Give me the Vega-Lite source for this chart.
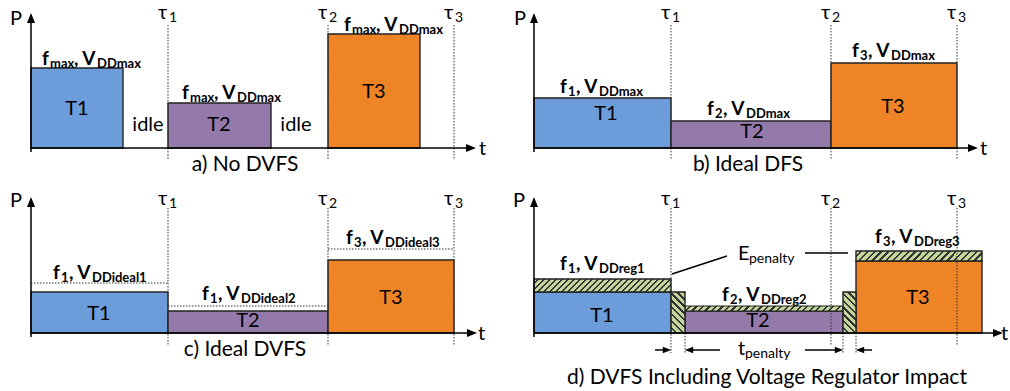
{
"$schema": "https://vega.github.io/schema/vega-lite/v6.json",
"width": 1010, "height": 391,
"autosize": {"type": "fit", "contains": "padding"},
"padding": 0,
"background": "white",
"config": {"view": {"stroke": null}},
"datasets": {
"tasks": [
{"panel":"a","task":"T1","x":31,"x2":123,"y":68,"y2":148},
{"panel":"a","task":"T2","x":168,"x2":271,"y":103,"y2":148},
{"panel":"a","task":"T3","x":328,"x2":420,"y":34,"y2":148},
{"panel":"b","task":"T1","x":534,"x2":671,"y":98,"y2":148},
{"panel":"b","task":"T2","x":671,"x2":831,"y":121,"y2":148},
{"panel":"b","task":"T3","x":831,"x2":957,"y":63,"y2":148},
{"panel":"c","task":"T1","x":31,"x2":168,"y":292,"y2":333},
{"panel":"c","task":"T2","x":168,"x2":328,"y":311,"y2":333},
{"panel":"c","task":"T3","x":328,"x2":454,"y":260,"y2":333},
{"panel":"d","task":"T1","x":534,"x2":671,"y":292,"y2":333},
{"panel":"d","task":"T2","x":685,"x2":843,"y":311,"y2":333},
{"panel":"d","task":"T3","x":856,"x2":982,"y":261,"y2":333}
],
"dotted": [
{"x":168,"y":25,"x2":168,"y2":160},{"x":328,"y":25,"x2":328,"y2":160},{"x":454,"y":25,"x2":454,"y2":160},
{"x":671,"y":25,"x2":671,"y2":160},{"x":831,"y":25,"x2":831,"y2":160},{"x":957,"y":25,"x2":957,"y2":160},
{"x":168,"y":208,"x2":168,"y2":345},{"x":328,"y":208,"x2":328,"y2":345},{"x":454,"y":208,"x2":454,"y2":345},
{"x":671,"y":208,"x2":671,"y2":353},{"x":831,"y":208,"x2":831,"y2":345},{"x":957,"y":208,"x2":957,"y2":345},
{"x":685,"y":333,"x2":685,"y2":353},{"x":843,"y":333,"x2":843,"y2":353},{"x":856,"y":333,"x2":856,"y2":353},
{"x":31,"y":283,"x2":168,"y2":283},{"x":168,"y":306,"x2":328,"y2":306},{"x":328,"y":249,"x2":454,"y2":249}
],
"solid": [
{"x":31,"y":152,"x2":31,"y2":20},{"x":31,"y":148,"x2":468,"y2":148},
{"x":534,"y":152,"x2":534,"y2":20},{"x":534,"y":148,"x2":970,"y2":148},
{"x":31,"y":337,"x2":31,"y2":204},{"x":31,"y":333,"x2":469,"y2":333},
{"x":534,"y":337,"x2":534,"y2":204},{"x":534,"y":333,"x2":995,"y2":333},
{"x":672,"y":274,"x2":727,"y2":256},{"x":805,"y":253,"x2":848,"y2":253},
{"x":655,"y":350,"x2":668,"y2":350},{"x":688,"y":350,"x2":720,"y2":350},
{"x":805,"y":350,"x2":840,"y2":350},{"x":859,"y":350,"x2":872,"y2":350}
],
"bigArrows": [
{"x":31,"y":18,"dir":"up"},{"x":534,"y":18,"dir":"up"},{"x":31,"y":202,"dir":"up"},{"x":534,"y":202,"dir":"up"},
{"x":471,"y":148,"dir":"right"},{"x":973,"y":148,"dir":"right"},{"x":472,"y":333,"dir":"right"},{"x":998,"y":333,"dir":"right"}
],
"smallArrows": [
{"x":667,"y":350,"dir":"right"},{"x":689,"y":350,"dir":"left"},{"x":839,"y":350,"dir":"right"},{"x":860,"y":350,"dir":"left"}
],
"boldMain": [
{"x":42,"y":65,"text":"f"},{"x":74,"y":65,"text":", V"},
{"x":182,"y":99,"text":"f"},{"x":214,"y":99,"text":", V"},
{"x":344,"y":31,"text":"f"},{"x":376,"y":31,"text":", V"},
{"x":560,"y":93,"text":"f"},{"x":576,"y":93,"text":", V"},
{"x":707,"y":115,"text":"f"},{"x":723,"y":115,"text":", V"},
{"x":852,"y":57,"text":"f"},{"x":868,"y":57,"text":", V"},
{"x":53,"y":279,"text":"f"},{"x":69,"y":279,"text":", V"},
{"x":202,"y":300,"text":"f"},{"x":218,"y":300,"text":", V"},
{"x":346,"y":244,"text":"f"},{"x":362,"y":244,"text":", V"},
{"x":560,"y":270,"text":"f"},{"x":576,"y":270,"text":", V"},
{"x":722,"y":301,"text":"f"},{"x":738,"y":301,"text":", V"},
{"x":875,"y":243,"text":"f"},{"x":891,"y":243,"text":", V"}
],
"boldSub": [
{"x":50,"y":68,"text":"max"},{"x":97,"y":68,"text":"DDmax"},
{"x":190,"y":102,"text":"max"},{"x":237,"y":102,"text":"DDmax"},
{"x":352,"y":34,"text":"max"},{"x":399,"y":34,"text":"DDmax"},
{"x":568,"y":96,"text":"1"},{"x":599,"y":96,"text":"DDmax"},
{"x":715,"y":118,"text":"2"},{"x":746,"y":118,"text":"DDmax"},
{"x":860,"y":60,"text":"3"},{"x":891,"y":60,"text":"DDmax"},
{"x":61,"y":282,"text":"1"},{"x":92,"y":282,"text":"DDideal1"},
{"x":210,"y":303,"text":"1"},{"x":241,"y":303,"text":"DDideal2"},
{"x":354,"y":247,"text":"3"},{"x":385,"y":247,"text":"DDideal3"},
{"x":568,"y":273,"text":"1"},{"x":599,"y":273,"text":"DDreg1"},
{"x":730,"y":304,"text":"2"},{"x":761,"y":304,"text":"DDreg2"},
{"x":883,"y":246,"text":"3"},{"x":914,"y":246,"text":"DDreg3"}
],
"regMain": [
{"x":10,"y":25,"text":"P"},{"x":514,"y":25,"text":"P"},{"x":10,"y":207,"text":"P"},{"x":513,"y":207,"text":"P"},
{"x":479,"y":155,"text":"t"},{"x":980,"y":155,"text":"t"},{"x":478,"y":340,"text":"t"},{"x":1001,"y":340,"text":"t"},
{"x":158,"y":19,"text":"τ"},{"x":318,"y":19,"text":"τ"},{"x":444,"y":19,"text":"τ"},
{"x":661,"y":19,"text":"τ"},{"x":821,"y":19,"text":"τ"},{"x":947,"y":19,"text":"τ"},
{"x":158,"y":205,"text":"τ"},{"x":318,"y":205,"text":"τ"},{"x":444,"y":205,"text":"τ"},
{"x":661,"y":205,"text":"τ"},{"x":821,"y":205,"text":"τ"},{"x":947,"y":205,"text":"τ"},
{"x":738,"y":260,"text":"E"},{"x":738,"y":355,"text":"t"}
],
"regSub": [
{"x":169,"y":22,"text":"1"},{"x":329,"y":22,"text":"2"},{"x":455,"y":22,"text":"3"},
{"x":672,"y":22,"text":"1"},{"x":832,"y":22,"text":"2"},{"x":958,"y":22,"text":"3"},
{"x":169,"y":208,"text":"1"},{"x":329,"y":208,"text":"2"},{"x":455,"y":208,"text":"3"},
{"x":672,"y":208,"text":"1"},{"x":832,"y":208,"text":"2"},{"x":958,"y":208,"text":"3"},
{"x":749,"y":263,"text":"penalty"},{"x":745,"y":358,"text":"penalty"}
],
"centered": [
{"x":77,"y":108.5,"text":"T1"},{"x":219,"y":125,"text":"T2"},{"x":374,"y":92,"text":"T3"},
{"x":148,"y":125,"text":"idle"},{"x":296,"y":125,"text":"idle"},
{"x":606,"y":113.5,"text":"T1"},{"x":752,"y":132,"text":"T2"},{"x":893,"y":106.5,"text":"T3"},
{"x":99,"y":314,"text":"T1"},{"x":248,"y":321,"text":"T2"},{"x":391,"y":298,"text":"T3"},
{"x":602,"y":316,"text":"T1"},{"x":758,"y":321,"text":"T2"},{"x":918,"y":298,"text":"T3"}
],
"captions": [
{"x":245,"y":165,"text":"a) No DVFS"},{"x":748,"y":165,"text":"b) Ideal DFS"},
{"x":245,"y":350,"text":"c) Ideal DVFS"},{"x":767,"y":378,"text":"d) DVFS Including Voltage Regulator Impact"}
]
},
"layer": [
{
"data": {"name": "tasks"},
"mark": {"type": "rect", "stroke": "#222222", "strokeWidth": 1.4},
"encoding": {
"x": {"field": "x", "type": "quantitative", "scale": {"domain": [0, 1010], "nice": false, "zero": false}, "axis": null},
"x2": {"field": "x2"},
"y": {"field": "y", "type": "quantitative", "scale": {"domain": [0, 391], "nice": false, "zero": false, "reverse": true}, "axis": null},
"y2": {"field": "y2"},
"color": {"field": "task", "type": "nominal", "scale": {"domain": ["T1", "T2", "T3"], "range": ["#6C9CD9", "#9479AB", "#EF8427"]}, "legend": null}
}
},
{
"data": {"values": [{"part": "T1 overhead", "x": 534, "x2": 671, "y": 279, "y2": 292}]},
"mark": {"type": "rect", "stroke": "#222222", "strokeWidth": 1.4, "fill": {"gradient": "linear", "x1": 0, "y1": 0, "x2": 1.0851, "y2": 0.103, "stops": [
{"offset":0,"color":"#C4D69B"},{"offset":0.026,"color":"#C4D69B"},{"offset":0.026,"color":"#333333"},{"offset":0.04,"color":"#333333"},
{"offset":0.04,"color":"#C4D69B"},{"offset":0.066,"color":"#C4D69B"},{"offset":0.066,"color":"#333333"},{"offset":0.08,"color":"#333333"},
{"offset":0.08,"color":"#C4D69B"},{"offset":0.106,"color":"#C4D69B"},{"offset":0.106,"color":"#333333"},{"offset":0.12,"color":"#333333"},
{"offset":0.12,"color":"#C4D69B"},{"offset":0.146,"color":"#C4D69B"},{"offset":0.146,"color":"#333333"},{"offset":0.16,"color":"#333333"},
{"offset":0.16,"color":"#C4D69B"},{"offset":0.186,"color":"#C4D69B"},{"offset":0.186,"color":"#333333"},{"offset":0.2,"color":"#333333"},
{"offset":0.2,"color":"#C4D69B"},{"offset":0.226,"color":"#C4D69B"},{"offset":0.226,"color":"#333333"},{"offset":0.24,"color":"#333333"},
{"offset":0.24,"color":"#C4D69B"},{"offset":0.266,"color":"#C4D69B"},{"offset":0.266,"color":"#333333"},{"offset":0.28,"color":"#333333"},
{"offset":0.28,"color":"#C4D69B"},{"offset":0.306,"color":"#C4D69B"},{"offset":0.306,"color":"#333333"},{"offset":0.32,"color":"#333333"},
{"offset":0.32,"color":"#C4D69B"},{"offset":0.346,"color":"#C4D69B"},{"offset":0.346,"color":"#333333"},{"offset":0.36,"color":"#333333"},
{"offset":0.36,"color":"#C4D69B"},{"offset":0.386,"color":"#C4D69B"},{"offset":0.386,"color":"#333333"},{"offset":0.4,"color":"#333333"},
{"offset":0.4,"color":"#C4D69B"},{"offset":0.426,"color":"#C4D69B"},{"offset":0.426,"color":"#333333"},{"offset":0.44,"color":"#333333"},
{"offset":0.44,"color":"#C4D69B"},{"offset":0.466,"color":"#C4D69B"},{"offset":0.466,"color":"#333333"},{"offset":0.48,"color":"#333333"},
{"offset":0.48,"color":"#C4D69B"},{"offset":0.506,"color":"#C4D69B"},{"offset":0.506,"color":"#333333"},{"offset":0.52,"color":"#333333"},
{"offset":0.52,"color":"#C4D69B"},{"offset":0.546,"color":"#C4D69B"},{"offset":0.546,"color":"#333333"},{"offset":0.56,"color":"#333333"},
{"offset":0.56,"color":"#C4D69B"},{"offset":0.586,"color":"#C4D69B"},{"offset":0.586,"color":"#333333"},{"offset":0.6,"color":"#333333"},
{"offset":0.6,"color":"#C4D69B"},{"offset":0.626,"color":"#C4D69B"},{"offset":0.626,"color":"#333333"},{"offset":0.64,"color":"#333333"},
{"offset":0.64,"color":"#C4D69B"},{"offset":0.666,"color":"#C4D69B"},{"offset":0.666,"color":"#333333"},{"offset":0.68,"color":"#333333"},
{"offset":0.68,"color":"#C4D69B"},{"offset":0.706,"color":"#C4D69B"},{"offset":0.706,"color":"#333333"},{"offset":0.72,"color":"#333333"},
{"offset":0.72,"color":"#C4D69B"},{"offset":0.746,"color":"#C4D69B"},{"offset":0.746,"color":"#333333"},{"offset":0.76,"color":"#333333"},
{"offset":0.76,"color":"#C4D69B"},{"offset":0.786,"color":"#C4D69B"},{"offset":0.786,"color":"#333333"},{"offset":0.8,"color":"#333333"},
{"offset":0.8,"color":"#C4D69B"},{"offset":0.826,"color":"#C4D69B"},{"offset":0.826,"color":"#333333"},{"offset":0.84,"color":"#333333"},
{"offset":0.84,"color":"#C4D69B"},{"offset":0.866,"color":"#C4D69B"},{"offset":0.866,"color":"#333333"},{"offset":0.88,"color":"#333333"},
{"offset":0.88,"color":"#C4D69B"},{"offset":0.906,"color":"#C4D69B"},{"offset":0.906,"color":"#333333"},{"offset":0.92,"color":"#333333"},
{"offset":0.92,"color":"#C4D69B"},{"offset":0.946,"color":"#C4D69B"},{"offset":0.946,"color":"#333333"},{"offset":0.96,"color":"#333333"},
{"offset":0.96,"color":"#C4D69B"},{"offset":0.986,"color":"#C4D69B"},{"offset":0.986,"color":"#333333"},{"offset":1,"color":"#333333"}
]}},
"encoding": {
"x": {"field": "x", "type": "quantitative", "scale": {"domain": [0, 1010], "nice": false, "zero": false}, "axis": null},
"x2": {"field": "x2"},
"y": {"field": "y", "type": "quantitative", "scale": {"domain": [0, 391], "nice": false, "zero": false, "reverse": true}, "axis": null},
"y2": {"field": "y2"}
}
},
{
"data": {"values": [{"part": "T2 overhead", "x": 685, "x2": 843, "y": 306, "y2": 311}]},
"mark": {"type": "rect", "stroke": "#222222", "strokeWidth": 1.2, "fill": {"gradient": "linear", "x1": 0, "y1": 0, "x2": 1.0306, "y2": 0.0326, "stops": [
{"offset":0,"color":"#C4D69B"},{"offset":0.026,"color":"#C4D69B"},{"offset":0.026,"color":"#333333"},{"offset":0.04,"color":"#333333"},
{"offset":0.04,"color":"#C4D69B"},{"offset":0.066,"color":"#C4D69B"},{"offset":0.066,"color":"#333333"},{"offset":0.08,"color":"#333333"},
{"offset":0.08,"color":"#C4D69B"},{"offset":0.106,"color":"#C4D69B"},{"offset":0.106,"color":"#333333"},{"offset":0.12,"color":"#333333"},
{"offset":0.12,"color":"#C4D69B"},{"offset":0.146,"color":"#C4D69B"},{"offset":0.146,"color":"#333333"},{"offset":0.16,"color":"#333333"},
{"offset":0.16,"color":"#C4D69B"},{"offset":0.186,"color":"#C4D69B"},{"offset":0.186,"color":"#333333"},{"offset":0.2,"color":"#333333"},
{"offset":0.2,"color":"#C4D69B"},{"offset":0.226,"color":"#C4D69B"},{"offset":0.226,"color":"#333333"},{"offset":0.24,"color":"#333333"},
{"offset":0.24,"color":"#C4D69B"},{"offset":0.266,"color":"#C4D69B"},{"offset":0.266,"color":"#333333"},{"offset":0.28,"color":"#333333"},
{"offset":0.28,"color":"#C4D69B"},{"offset":0.306,"color":"#C4D69B"},{"offset":0.306,"color":"#333333"},{"offset":0.32,"color":"#333333"},
{"offset":0.32,"color":"#C4D69B"},{"offset":0.346,"color":"#C4D69B"},{"offset":0.346,"color":"#333333"},{"offset":0.36,"color":"#333333"},
{"offset":0.36,"color":"#C4D69B"},{"offset":0.386,"color":"#C4D69B"},{"offset":0.386,"color":"#333333"},{"offset":0.4,"color":"#333333"},
{"offset":0.4,"color":"#C4D69B"},{"offset":0.426,"color":"#C4D69B"},{"offset":0.426,"color":"#333333"},{"offset":0.44,"color":"#333333"},
{"offset":0.44,"color":"#C4D69B"},{"offset":0.466,"color":"#C4D69B"},{"offset":0.466,"color":"#333333"},{"offset":0.48,"color":"#333333"},
{"offset":0.48,"color":"#C4D69B"},{"offset":0.506,"color":"#C4D69B"},{"offset":0.506,"color":"#333333"},{"offset":0.52,"color":"#333333"},
{"offset":0.52,"color":"#C4D69B"},{"offset":0.546,"color":"#C4D69B"},{"offset":0.546,"color":"#333333"},{"offset":0.56,"color":"#333333"},
{"offset":0.56,"color":"#C4D69B"},{"offset":0.586,"color":"#C4D69B"},{"offset":0.586,"color":"#333333"},{"offset":0.6,"color":"#333333"},
{"offset":0.6,"color":"#C4D69B"},{"offset":0.626,"color":"#C4D69B"},{"offset":0.626,"color":"#333333"},{"offset":0.64,"color":"#333333"},
{"offset":0.64,"color":"#C4D69B"},{"offset":0.666,"color":"#C4D69B"},{"offset":0.666,"color":"#333333"},{"offset":0.68,"color":"#333333"},
{"offset":0.68,"color":"#C4D69B"},{"offset":0.706,"color":"#C4D69B"},{"offset":0.706,"color":"#333333"},{"offset":0.72,"color":"#333333"},
{"offset":0.72,"color":"#C4D69B"},{"offset":0.746,"color":"#C4D69B"},{"offset":0.746,"color":"#333333"},{"offset":0.76,"color":"#333333"},
{"offset":0.76,"color":"#C4D69B"},{"offset":0.786,"color":"#C4D69B"},{"offset":0.786,"color":"#333333"},{"offset":0.8,"color":"#333333"},
{"offset":0.8,"color":"#C4D69B"},{"offset":0.826,"color":"#C4D69B"},{"offset":0.826,"color":"#333333"},{"offset":0.84,"color":"#333333"},
{"offset":0.84,"color":"#C4D69B"},{"offset":0.866,"color":"#C4D69B"},{"offset":0.866,"color":"#333333"},{"offset":0.88,"color":"#333333"},
{"offset":0.88,"color":"#C4D69B"},{"offset":0.906,"color":"#C4D69B"},{"offset":0.906,"color":"#333333"},{"offset":0.92,"color":"#333333"},
{"offset":0.92,"color":"#C4D69B"},{"offset":0.946,"color":"#C4D69B"},{"offset":0.946,"color":"#333333"},{"offset":0.96,"color":"#333333"},
{"offset":0.96,"color":"#C4D69B"},{"offset":0.986,"color":"#C4D69B"},{"offset":0.986,"color":"#333333"},{"offset":1,"color":"#333333"}
]}},
"encoding": {
"x": {"field": "x", "type": "quantitative", "scale": {"domain": [0, 1010], "nice": false, "zero": false}, "axis": null},
"x2": {"field": "x2"},
"y": {"field": "y", "type": "quantitative", "scale": {"domain": [0, 391], "nice": false, "zero": false, "reverse": true}, "axis": null},
"y2": {"field": "y2"}
}
},
{
"data": {"values": [{"part": "T3 overhead", "x": 856, "x2": 982, "y": 251, "y2": 261}]},
"mark": {"type": "rect", "stroke": "#222222", "strokeWidth": 1.4, "fill": {"gradient": "linear", "x1": 0, "y1": 0, "x2": 1.0726, "y2": 0.0851, "stops": [
{"offset":0,"color":"#C4D69B"},{"offset":0.0325,"color":"#C4D69B"},{"offset":0.0325,"color":"#333333"},{"offset":0.05,"color":"#333333"},
{"offset":0.05,"color":"#C4D69B"},{"offset":0.0825,"color":"#C4D69B"},{"offset":0.0825,"color":"#333333"},{"offset":0.1,"color":"#333333"},
{"offset":0.1,"color":"#C4D69B"},{"offset":0.1325,"color":"#C4D69B"},{"offset":0.1325,"color":"#333333"},{"offset":0.15,"color":"#333333"},
{"offset":0.15,"color":"#C4D69B"},{"offset":0.1825,"color":"#C4D69B"},{"offset":0.1825,"color":"#333333"},{"offset":0.2,"color":"#333333"},
{"offset":0.2,"color":"#C4D69B"},{"offset":0.2325,"color":"#C4D69B"},{"offset":0.2325,"color":"#333333"},{"offset":0.25,"color":"#333333"},
{"offset":0.25,"color":"#C4D69B"},{"offset":0.2825,"color":"#C4D69B"},{"offset":0.2825,"color":"#333333"},{"offset":0.3,"color":"#333333"},
{"offset":0.3,"color":"#C4D69B"},{"offset":0.3325,"color":"#C4D69B"},{"offset":0.3325,"color":"#333333"},{"offset":0.35,"color":"#333333"},
{"offset":0.35,"color":"#C4D69B"},{"offset":0.3825,"color":"#C4D69B"},{"offset":0.3825,"color":"#333333"},{"offset":0.4,"color":"#333333"},
{"offset":0.4,"color":"#C4D69B"},{"offset":0.4325,"color":"#C4D69B"},{"offset":0.4325,"color":"#333333"},{"offset":0.45,"color":"#333333"},
{"offset":0.45,"color":"#C4D69B"},{"offset":0.4825,"color":"#C4D69B"},{"offset":0.4825,"color":"#333333"},{"offset":0.5,"color":"#333333"},
{"offset":0.5,"color":"#C4D69B"},{"offset":0.5325,"color":"#C4D69B"},{"offset":0.5325,"color":"#333333"},{"offset":0.55,"color":"#333333"},
{"offset":0.55,"color":"#C4D69B"},{"offset":0.5825,"color":"#C4D69B"},{"offset":0.5825,"color":"#333333"},{"offset":0.6,"color":"#333333"},
{"offset":0.6,"color":"#C4D69B"},{"offset":0.6325,"color":"#C4D69B"},{"offset":0.6325,"color":"#333333"},{"offset":0.65,"color":"#333333"},
{"offset":0.65,"color":"#C4D69B"},{"offset":0.6825,"color":"#C4D69B"},{"offset":0.6825,"color":"#333333"},{"offset":0.7,"color":"#333333"},
{"offset":0.7,"color":"#C4D69B"},{"offset":0.7325,"color":"#C4D69B"},{"offset":0.7325,"color":"#333333"},{"offset":0.75,"color":"#333333"},
{"offset":0.75,"color":"#C4D69B"},{"offset":0.7825,"color":"#C4D69B"},{"offset":0.7825,"color":"#333333"},{"offset":0.8,"color":"#333333"},
{"offset":0.8,"color":"#C4D69B"},{"offset":0.8325,"color":"#C4D69B"},{"offset":0.8325,"color":"#333333"},{"offset":0.85,"color":"#333333"},
{"offset":0.85,"color":"#C4D69B"},{"offset":0.8825,"color":"#C4D69B"},{"offset":0.8825,"color":"#333333"},{"offset":0.9,"color":"#333333"},
{"offset":0.9,"color":"#C4D69B"},{"offset":0.9325,"color":"#C4D69B"},{"offset":0.9325,"color":"#333333"},{"offset":0.95,"color":"#333333"},
{"offset":0.95,"color":"#C4D69B"},{"offset":0.9825,"color":"#C4D69B"},{"offset":0.9825,"color":"#333333"},{"offset":1,"color":"#333333"}
]}},
"encoding": {
"x": {"field": "x", "type": "quantitative", "scale": {"domain": [0, 1010], "nice": false, "zero": false}, "axis": null},
"x2": {"field": "x2"},
"y": {"field": "y", "type": "quantitative", "scale": {"domain": [0, 391], "nice": false, "zero": false, "reverse": true}, "axis": null},
"y2": {"field": "y2"}
}
},
{
"data": {"values": [{"part": "switch 1", "x": 671, "x2": 685, "y": 292, "y2": 333}]},
"mark": {"type": "rect", "stroke": "#222222", "strokeWidth": 1.4, "fill": {"gradient": "linear", "x1": 0, "y1": 1, "x2": 0.4102, "y2": -0.2014, "stops": [
{"offset":0,"color":"#C4D69B"},{"offset":0.08,"color":"#C4D69B"},{"offset":0.08,"color":"#333333"},{"offset":0.125,"color":"#333333"},
{"offset":0.125,"color":"#C4D69B"},{"offset":0.205,"color":"#C4D69B"},{"offset":0.205,"color":"#333333"},{"offset":0.25,"color":"#333333"},
{"offset":0.25,"color":"#C4D69B"},{"offset":0.33,"color":"#C4D69B"},{"offset":0.33,"color":"#333333"},{"offset":0.375,"color":"#333333"},
{"offset":0.375,"color":"#C4D69B"},{"offset":0.455,"color":"#C4D69B"},{"offset":0.455,"color":"#333333"},{"offset":0.5,"color":"#333333"},
{"offset":0.5,"color":"#C4D69B"},{"offset":0.58,"color":"#C4D69B"},{"offset":0.58,"color":"#333333"},{"offset":0.625,"color":"#333333"},
{"offset":0.625,"color":"#C4D69B"},{"offset":0.705,"color":"#C4D69B"},{"offset":0.705,"color":"#333333"},{"offset":0.75,"color":"#333333"},
{"offset":0.75,"color":"#C4D69B"},{"offset":0.83,"color":"#C4D69B"},{"offset":0.83,"color":"#333333"},{"offset":0.875,"color":"#333333"},
{"offset":0.875,"color":"#C4D69B"},{"offset":0.955,"color":"#C4D69B"},{"offset":0.955,"color":"#333333"},{"offset":1,"color":"#333333"}
]}},
"encoding": {
"x": {"field": "x", "type": "quantitative", "scale": {"domain": [0, 1010], "nice": false, "zero": false}, "axis": null},
"x2": {"field": "x2"},
"y": {"field": "y", "type": "quantitative", "scale": {"domain": [0, 391], "nice": false, "zero": false, "reverse": true}, "axis": null},
"y2": {"field": "y2"}
}
},
{
"data": {"values": [{"part": "switch 2", "x": 843, "x2": 856, "y": 292, "y2": 333}]},
"mark": {"type": "rect", "stroke": "#222222", "strokeWidth": 1.4, "fill": {"gradient": "linear", "x1": 0, "y1": 1, "x2": 0.3795, "y2": -0.1968, "stops": [
{"offset":0,"color":"#C4D69B"},{"offset":0.08,"color":"#C4D69B"},{"offset":0.08,"color":"#333333"},{"offset":0.125,"color":"#333333"},
{"offset":0.125,"color":"#C4D69B"},{"offset":0.205,"color":"#C4D69B"},{"offset":0.205,"color":"#333333"},{"offset":0.25,"color":"#333333"},
{"offset":0.25,"color":"#C4D69B"},{"offset":0.33,"color":"#C4D69B"},{"offset":0.33,"color":"#333333"},{"offset":0.375,"color":"#333333"},
{"offset":0.375,"color":"#C4D69B"},{"offset":0.455,"color":"#C4D69B"},{"offset":0.455,"color":"#333333"},{"offset":0.5,"color":"#333333"},
{"offset":0.5,"color":"#C4D69B"},{"offset":0.58,"color":"#C4D69B"},{"offset":0.58,"color":"#333333"},{"offset":0.625,"color":"#333333"},
{"offset":0.625,"color":"#C4D69B"},{"offset":0.705,"color":"#C4D69B"},{"offset":0.705,"color":"#333333"},{"offset":0.75,"color":"#333333"},
{"offset":0.75,"color":"#C4D69B"},{"offset":0.83,"color":"#C4D69B"},{"offset":0.83,"color":"#333333"},{"offset":0.875,"color":"#333333"},
{"offset":0.875,"color":"#C4D69B"},{"offset":0.955,"color":"#C4D69B"},{"offset":0.955,"color":"#333333"},{"offset":1,"color":"#333333"}
]}},
"encoding": {
"x": {"field": "x", "type": "quantitative", "scale": {"domain": [0, 1010], "nice": false, "zero": false}, "axis": null},
"x2": {"field": "x2"},
"y": {"field": "y", "type": "quantitative", "scale": {"domain": [0, 391], "nice": false, "zero": false, "reverse": true}, "axis": null},
"y2": {"field": "y2"}
}
},
{
"data": {"name": "dotted"},
"mark": {"type": "rule", "color": "#333333", "strokeWidth": 1, "strokeDash": [1.5, 1.5]},
"encoding": {
"x": {"field": "x", "type": "quantitative", "scale": {"domain": [0, 1010], "nice": false, "zero": false}, "axis": null},
"x2": {"field": "x2"},
"y": {"field": "y", "type": "quantitative", "scale": {"domain": [0, 391], "nice": false, "zero": false, "reverse": true}, "axis": null},
"y2": {"field": "y2"}
}
},
{
"data": {"name": "solid"},
"mark": {"type": "rule", "color": "#000000", "strokeWidth": 1.5},
"encoding": {
"x": {"field": "x", "type": "quantitative", "scale": {"domain": [0, 1010], "nice": false, "zero": false}, "axis": null},
"x2": {"field": "x2"},
"y": {"field": "y", "type": "quantitative", "scale": {"domain": [0, 391], "nice": false, "zero": false, "reverse": true}, "axis": null},
"y2": {"field": "y2"}
}
},
{
"data": {"name": "bigArrows"},
"mark": {"type": "point", "filled": true, "color": "#000000", "opacity": 1, "size": 100, "strokeWidth": 0},
"encoding": {
"x": {"field": "x", "type": "quantitative", "scale": {"domain": [0, 1010], "nice": false, "zero": false}, "axis": null},
"y": {"field": "y", "type": "quantitative", "scale": {"domain": [0, 391], "nice": false, "zero": false, "reverse": true}, "axis": null},
"shape": {"field": "dir", "type": "nominal", "scale": {"domain": ["up", "right", "left"], "range": ["M0,-1L0.8,1L-0.8,1Z", "M1,0L-1,0.8L-1,-0.8Z", "M-1,0L1,0.8L1,-0.8Z"]}, "legend": null}
}
},
{
"data": {"name": "smallArrows"},
"mark": {"type": "point", "filled": true, "color": "#000000", "opacity": 1, "size": 70, "strokeWidth": 0},
"encoding": {
"x": {"field": "x", "type": "quantitative", "scale": {"domain": [0, 1010], "nice": false, "zero": false}, "axis": null},
"y": {"field": "y", "type": "quantitative", "scale": {"domain": [0, 391], "nice": false, "zero": false, "reverse": true}, "axis": null},
"shape": {"field": "dir", "type": "nominal", "scale": {"domain": ["up", "right", "left"], "range": ["M0,-1L0.8,1L-0.8,1Z", "M1,0L-1,0.8L-1,-0.8Z", "M-1,0L1,0.8L1,-0.8Z"]}, "legend": null}
}
},
{
"data": {"name": "boldMain"},
"mark": {"type": "text", "font": "Lato", "fontSize": 19, "fontWeight": "bold", "align": "left", "baseline": "alphabetic", "color": "#000000"},
"encoding": {
"x": {"field": "x", "type": "quantitative", "scale": {"domain": [0, 1010], "nice": false, "zero": false}, "axis": null},
"y": {"field": "y", "type": "quantitative", "scale": {"domain": [0, 391], "nice": false, "zero": false, "reverse": true}, "axis": null},
"text": {"field": "text"}
}
},
{
"data": {"name": "boldSub"},
"mark": {"type": "text", "font": "Lato", "fontSize": 13, "fontWeight": "bold", "align": "left", "baseline": "alphabetic", "color": "#000000"},
"encoding": {
"x": {"field": "x", "type": "quantitative", "scale": {"domain": [0, 1010], "nice": false, "zero": false}, "axis": null},
"y": {"field": "y", "type": "quantitative", "scale": {"domain": [0, 391], "nice": false, "zero": false, "reverse": true}, "axis": null},
"text": {"field": "text"}
}
},
{
"data": {"name": "regMain"},
"mark": {"type": "text", "font": "Lato", "fontSize": 20, "align": "left", "baseline": "alphabetic", "color": "#000000"},
"encoding": {
"x": {"field": "x", "type": "quantitative", "scale": {"domain": [0, 1010], "nice": false, "zero": false}, "axis": null},
"y": {"field": "y", "type": "quantitative", "scale": {"domain": [0, 391], "nice": false, "zero": false, "reverse": true}, "axis": null},
"text": {"field": "text"}
}
},
{
"data": {"name": "regSub"},
"mark": {"type": "text", "font": "Lato", "fontSize": 14, "align": "left", "baseline": "alphabetic", "color": "#000000"},
"encoding": {
"x": {"field": "x", "type": "quantitative", "scale": {"domain": [0, 1010], "nice": false, "zero": false}, "axis": null},
"y": {"field": "y", "type": "quantitative", "scale": {"domain": [0, 391], "nice": false, "zero": false, "reverse": true}, "axis": null},
"text": {"field": "text"}
}
},
{
"data": {"name": "centered"},
"mark": {"type": "text", "font": "Lato", "fontSize": 20, "align": "center", "baseline": "middle", "color": "#000000"},
"encoding": {
"x": {"field": "x", "type": "quantitative", "scale": {"domain": [0, 1010], "nice": false, "zero": false}, "axis": null},
"y": {"field": "y", "type": "quantitative", "scale": {"domain": [0, 391], "nice": false, "zero": false, "reverse": true}, "axis": null},
"text": {"field": "text"}
}
},
{
"data": {"name": "captions"},
"mark": {"type": "text", "font": "Lato", "fontSize": 21, "align": "center", "baseline": "middle", "color": "#000000"},
"encoding": {
"x": {"field": "x", "type": "quantitative", "scale": {"domain": [0, 1010], "nice": false, "zero": false}, "axis": null},
"y": {"field": "y", "type": "quantitative", "scale": {"domain": [0, 391], "nice": false, "zero": false, "reverse": true}, "axis": null},
"text": {"field": "text"}
}
}
]
}
